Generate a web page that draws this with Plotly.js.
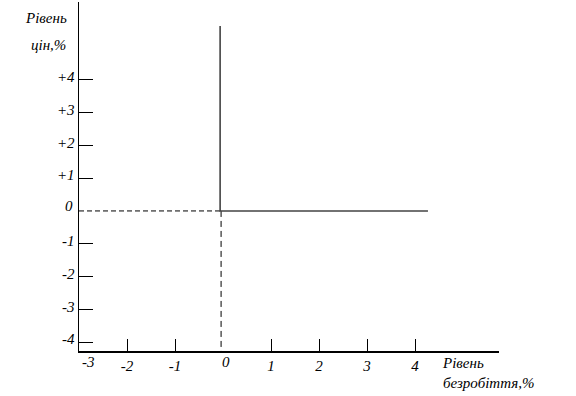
<!DOCTYPE html>
<html><head><meta charset="utf-8">
<script src="https://cdn.plot.ly/plotly-3.0.1.min.js"></script>
<style>html,body{margin:0;padding:0;background:#fff}#chart{width:576px;height:396px}</style>
</head><body><div id="chart"></div>
<script>
// Phillips-type curve (vertical at zero unemployment-deviation, then horizontal)
const curveX = [-0.06, -0.06, 4.27];
const curveY = [5.64, 0.0, 0.0];
// dashed guide lines
const guideHX = [-3, -0.06];
const guideHY = [0, 0];
const guideVX = [-0.04, -0.04];
const guideVY = [0, -4.27];
// ticks
const xTickVals = [-2, -1, 1, 2, 3, 4];
const xTickText = ['-2', '-1', '1', '2', '3', '4'];
const yTickVals = [-4, -3, -2, -1, 1, 2, 3, 4];
const yTickText = ['-4', '-3', '-2', '-1', '+1', '+2', '+3', '+4'];
const xRange = [-3, 5.75];
const yRange = [-4.27, 6.37];

const fnt = {family: 'Liberation Serif, DejaVu Serif, serif', size: 15, color: '#000', style: 'italic'};

const traces = [
  {x: guideHX, y: guideHY, mode: 'lines', line: {color: '#000', width: 1, dash: '5px,3px'}, hoverinfo: 'skip'},
  {x: guideVX, y: guideVY, mode: 'lines', line: {color: '#000', width: 1, dash: '6px,4px'}, hoverinfo: 'skip'},
  {x: curveX, y: curveY, mode: 'lines', line: {color: '#444', width: 1.6}, hoverinfo: 'skip'}
];

const layout = {
  width: 576, height: 396,
  margin: {l: 79, r: 77, t: 2, b: 45},
  paper_bgcolor: '#fff', plot_bgcolor: '#fff',
  showlegend: false,
  font: fnt,
  xaxis: {
    range: xRange, showgrid: false, zeroline: false,
    showline: true, linecolor: '#000', linewidth: 1.5,
    tickmode: 'array', tickvals: xTickVals, ticktext: xTickText,
    ticks: 'inside', ticklen: 12, tickwidth: 1, tickcolor: '#000',
    tickfont: fnt
  },
  yaxis: {
    range: yRange, showgrid: false, zeroline: false,
    showline: true, linecolor: '#000', linewidth: 1.5,
    tickmode: 'array', tickvals: yTickVals, ticktext: yTickText,
    ticks: 'inside', ticklen: 14, tickwidth: 1, tickcolor: '#000',
    tickfont: fnt, ticklabelshift: -3
  },
  annotations: [
    {xref: 'paper', yref: 'y', x: 0, y: 0, text: '0', showarrow: false, xanchor: 'right', yanchor: 'middle', xshift: -4, yshift: 5, font: fnt},
    {xref: 'x', yref: 'paper', x: -3, y: 0, text: '-3', showarrow: false, xanchor: 'center', yanchor: 'top', xshift: 9, yshift: -1, font: fnt},
    {xref: 'x', yref: 'paper', x: 0, y: 0, text: '0', showarrow: false, xanchor: 'center', yanchor: 'top', xshift: 3, yshift: -1, font: fnt},
    {xref: 'paper', yref: 'paper', x: 0, y: 1, text: 'Рівень', showarrow: false, xanchor: 'right', yanchor: 'top', align: 'right', xshift: -10, yshift: -6, font: fnt},
    {xref: 'paper', yref: 'paper', x: 0, y: 1, text: 'цін,%', showarrow: false, xanchor: 'right', yanchor: 'top', align: 'right', xshift: -11, yshift: -33, font: fnt},
    {xref: 'paper', yref: 'paper', x: 0.86, y: 0, text: 'Рівень<br>безробіття,%', showarrow: false, xanchor: 'left', yanchor: 'top', align: 'left', yshift: -2, font: fnt}
  ]
};

Plotly.newPlot('chart', traces, layout, {displayModeBar: false, staticPlot: true});
</script></body></html>
